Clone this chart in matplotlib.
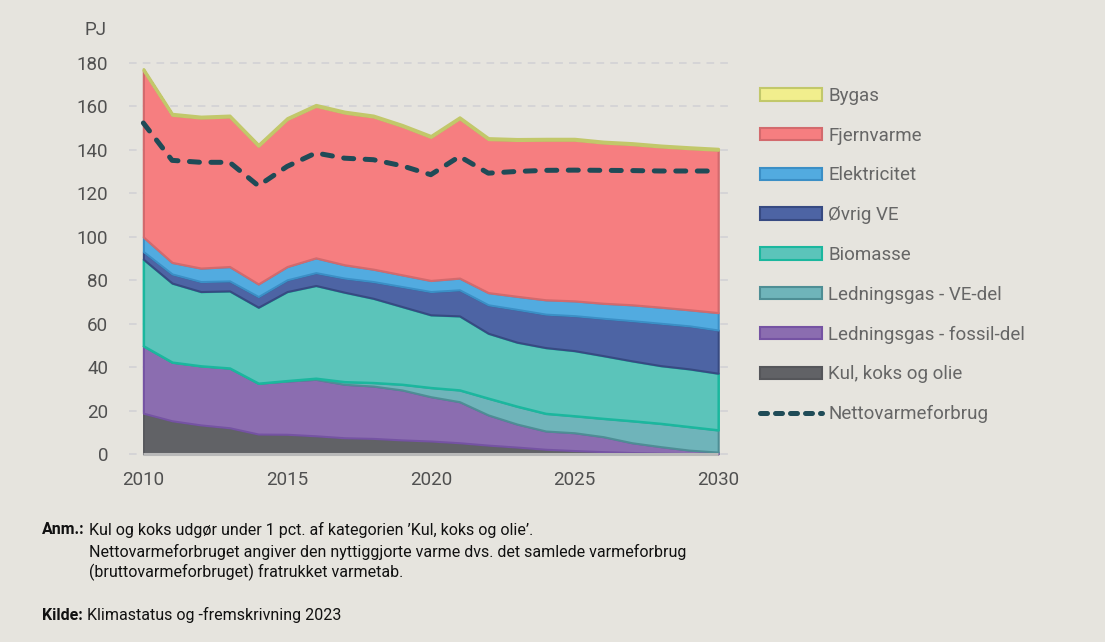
import numpy as np
import matplotlib
matplotlib.use("Agg")
from matplotlib import pyplot as plt
from matplotlib.patches import Patch
from matplotlib.lines import Line2D

# %% font
plt.rcParams['font.family'] = ['Roboto', 'DejaVu Sans']

# %% data (PJ)
years = np.arange(2010, 2031)
kul = [18.8, 15.3, 13.4, 12.1, 9.2, 9.1, 8.4, 7.5, 7.2, 6.5, 6.0, 5.2, 4.1, 3.2, 2.2, 1.6, 1.1, 0.7, 0.4, 0.2, 0.1]
gas_fossil = [31.0, 27.0, 27.2, 27.5, 23.4, 24.5, 26.0, 24.6, 24.1, 23.0, 20.4, 18.9, 13.9, 10.6, 8.4, 8.2, 6.9, 4.5, 3.0, 1.6, 0.8]
gas_ve = [0.0, 0.0, 0.0, 0.0, 0.0, 0.2, 0.5, 1.2, 1.6, 2.6, 4.2, 5.4, 7.7, 8.2, 8.1, 7.8, 8.4, 10.1, 10.7, 10.8, 10.2]
biomasse = [39.9, 36.4, 34.2, 35.5, 35.0, 41.0, 42.7, 41.2, 38.8, 35.8, 33.5, 34.1, 29.9, 29.5, 30.3, 30.0, 28.9, 27.6, 26.6, 26.6, 26.1]
ovrig_ve = [3.5, 4.2, 4.6, 4.6, 4.9, 5.4, 5.9, 6.5, 7.7, 9.2, 10.7, 12.0, 13.1, 15.1, 15.4, 16.1, 17.2, 18.5, 19.5, 19.8, 19.9]
el = [6.7, 5.3, 6.2, 6.6, 5.8, 6.1, 6.8, 6.1, 5.7, 5.4, 5.1, 5.4, 5.6, 6.0, 6.6, 6.8, 6.9, 7.3, 7.4, 7.4, 8.0]
fjernvarme = [76.8, 67.9, 69.2, 69.0, 63.5, 67.8, 69.9, 70.0, 70.2, 68.5, 66.0, 73.5, 70.6, 71.9, 73.6, 74.1, 73.9, 73.9, 73.9, 74.3, 74.9]
bygas = [0.6, 0.6, 0.6, 0.6, 0.6, 0.6, 0.6, 0.6, 0.6, 0.6, 0.6, 0.6, 0.6, 0.6, 0.6, 0.6, 0.6, 0.6, 0.6, 0.6, 0.6]
netto = [152.4, 135.2, 134.3, 134.3, 123.5, 132.4, 138.6, 136.2, 135.5, 132.7, 128.6, 137.0, 129.3, 130.1, 130.6, 130.7, 130.6, 130.5, 130.3, 130.3, 130.3]

labels = ["Kul, koks og olie", "Ledningsgas - fossil-del", "Ledningsgas - VE-del", "Biomasse",
          "Øvrig VE", "Elektricitet", "Fjernvarme", "Bygas"]
fills = ["#616266", "#8b6db0", "#6fb4ba", "#5bc4ba", "#4d64a4", "#52abe0", "#f67e80", "#f1ee8d"]
edges = ["#55565a", "#7553a3", "#4e8e95", "#1bb79e", "#374a82", "#3b8fc6", "#d36a6d", "#c2c86a"]
edge_w = [1.2, 1.5, 1.5, 1.8, 1.5, 1.5, 1.6, 2.0]

bg = "#e6e4de"

# %% figure
fig = plt.figure(figsize=(11.05, 6.42), dpi=100, facecolor=bg)
ax = fig.add_axes([129/1105, 1-457.3/642, (732-129)/1105, 398.6/642])
ax.set_facecolor(bg)

ax.set_xlim(2009.5, 2030.48)
ax.set_ylim(-1.5, 182)
ax.set_yticks(np.arange(0, 181, 20))
ax.set_xticks([2010, 2015, 2020, 2025, 2030])
ax.grid(axis='y', color="#d0d0d4", linestyle=(0, (5, 4)), linewidth=1.1, zorder=0)
ax.set_axisbelow(True)
for s in ax.spines.values():
    s.set_visible(False)
ax.tick_params(axis='both', length=0, labelsize=13.5, labelcolor="#505050")
ax.tick_params(axis='y', pad=15)
ax.tick_params(axis='x', pad=10)

polys = ax.stackplot(years, kul, gas_fossil, gas_ve, biomasse, ovrig_ve, el, fjernvarme, bygas,
                     colors=fills, zorder=2)
for p, ec, lw in zip(polys, edges, edge_w):
    p.set_edgecolor(ec)
    p.set_linewidth(lw)
    p.set_joinstyle('round')

ax.hlines(0, years[0], years[-1], color="#b9b9b9", linewidth=2.2, zorder=3)
ax.plot(years, netto, color="#1f4b57", linewidth=3.6, linestyle=(0, (2, 2.3)),
        dash_capstyle='round', zorder=4)

fig.text(107/1105, 1-30/642, "PJ", ha='right', va='center', fontsize=13.5, color="#505050")

# %% legend
handles = [Patch(facecolor=fc, edgecolor=ec, linewidth=1.5) for fc, ec in zip(fills, edges)][::-1]
handles.append(Line2D([0], [0], color="#1f4b57", linewidth=3.6, linestyle=(0, (1.4, 1.6)),
                      dash_capstyle='round'))
leg_labels = labels[::-1] + ["Nettovarmeforbrug"]
leg = fig.legend(handles, leg_labels, loc='upper left', bbox_to_anchor=(760/1105, 1-87/642),
                 frameon=False, fontsize=13.5, handlelength=3.3, handleheight=0.65,
                 handletextpad=0.35, labelspacing=1.16, borderpad=0, borderaxespad=0)
for t in leg.get_texts():
    t.set_color("#666666")

# %% notes
note_fs = 11.5
fig.text(42/1105, 1-530/642, "Anm.:", ha='left', va='center', fontsize=note_fs, fontweight='bold', color="#111111")
fig.text(89/1105, 1-530/642, "Kul og koks udgør under 1 pct. af kategorien ’Kul, koks og olie’.",
         ha='left', va='center', fontsize=note_fs, color="#111111")
fig.text(89/1105, 1-551.5/642, "Nettovarmeforbruget angiver den nyttiggjorte varme dvs. det samlede varmeforbrug",
         ha='left', va='center', fontsize=note_fs, color="#111111")
fig.text(89/1105, 1-572.5/642, "(bruttovarmeforbruget) fratrukket varmetab.",
         ha='left', va='center', fontsize=note_fs, color="#111111")
fig.text(42/1105, 1-615/642, "Kilde:", ha='left', va='center', fontsize=note_fs, fontweight='bold', color="#111111")
fig.text(87/1105, 1-615/642, "Klimastatus og -fremskrivning 2023",
         ha='left', va='center', fontsize=note_fs, color="#111111")

fig.savefig("out.png", dpi=100, facecolor=bg)
